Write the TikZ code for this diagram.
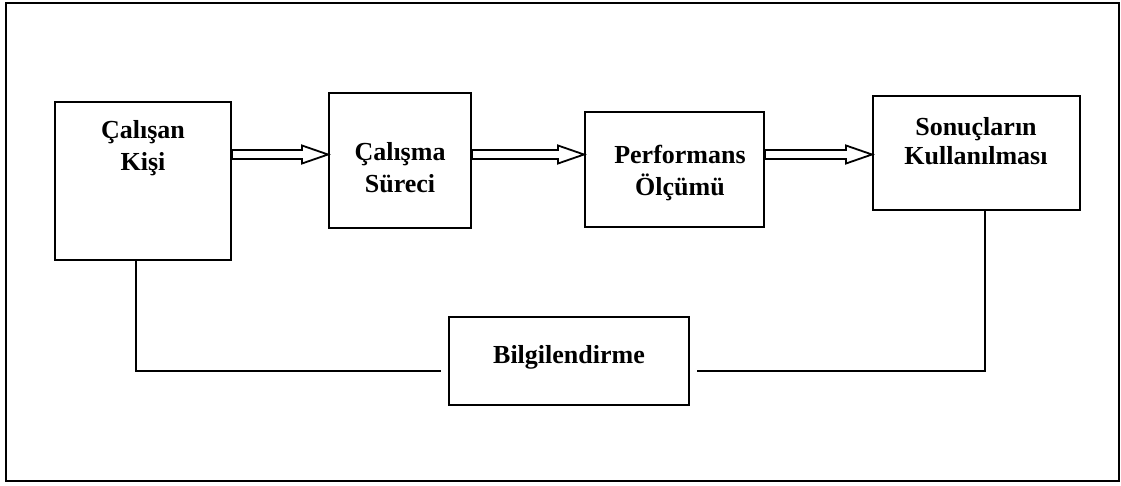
\documentclass[tikz,border=0pt]{standalone}
\usepackage{fontspec}
\setmainfont{Liberation Serif}
\usetikzlibrary{calc}
\tikzset{
  box/.style={draw, line width=2pt, inner sep=0pt, minimum width=#1},
  lbl/.style={anchor=base, inner sep=0pt, font=\fontsize{26}{31}\selectfont\bfseries},
  fbline/.style={line width=2pt},
  hollow/.style={draw, line width=1.8pt, fill=white, line join=miter},
  frame/.style={draw, line width=2.4pt}
}
% hollow block arrow from the east side of #1 to the west side of #2 at height #3
\newcommand\blockarrow[3]{%
  \path[hollow] let \p1=(#1.east), \p2=(#2.west), \p3=(0,#3) in
    (\x1,\y3+4.5pt) -- (\x2-26pt,\y3+4.5pt) -- (\x2-26pt,\y3+9pt) -- (\x2,\y3)
    -- (\x2-26pt,\y3-9pt) -- (\x2-26pt,\y3-4.5pt) -- (\x1,\y3-4.5pt) -- cycle;}
\begin{document}
\begin{tikzpicture}[x=1pt,y=-1pt]
\useasboundingbox (0,0) rectangle (1121,485);
\path[frame] (6,3) rectangle (1119,481);

% process boxes
\node[box=176pt, minimum height=158pt] (b1) at (143,181) {};
\node[box=142pt, minimum height=135pt] (b2) at (400,160.5) {};
\node[box=179pt, minimum height=115pt] (b3) at (674.5,169.5) {};
\node[box=207pt, minimum height=114pt] (b4) at (976.5,153) {};
\node[box=240pt, minimum height=88pt]  (b5) at (569,361) {};

% labels
\node[lbl] (t1a) at (143,138) {Çalışan};
\node[lbl] (t1b) at (143,170) {Kişi};
\node[lbl] (t2a) at (400,160) {Çalışma};
\node[lbl] (t2b) at (400,192) {Süreci};
\node[lbl] (t3a) at (680,163) {Performans};
\node[lbl] (t3b) at (680,195) {Ölçümü};
\node[lbl] (t4a) at (976,135) {Sonuçların};
\node[lbl] (t4b) at (976,164) {Kullanılması};
\node[lbl] (t5)  at (569,363) {Bilgilendirme};

% flow arrows
\blockarrow{b1}{b2}{154.5}
\blockarrow{b2}{b3}{154.5}
\blockarrow{b3}{b4}{154.5}

% feedback lines (stop short of the information box)
\coordinate (fl) at ($(b5.west)+(-7pt,0)$);
\coordinate (fr) at ($(b5.east)+(7pt,0)$);
\draw[fbline] (b1.south -| 136,0) |- (fl |- 0,371);
\draw[fbline] (b4.south -| 985,0) |- (fr |- 0,371);
\end{tikzpicture}
\end{document}
